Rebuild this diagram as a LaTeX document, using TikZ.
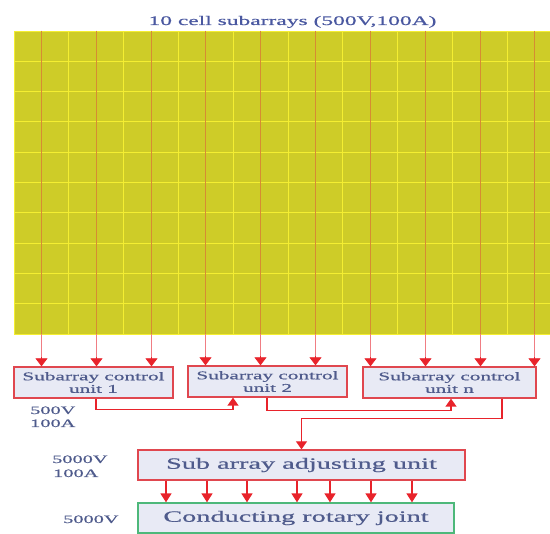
\documentclass[tikz,border=0pt]{standalone}
\usepackage{fontspec}
\setmainfont{Liberation Serif}[FakeStretch=1.8,FakeBold=0.6]
\usetikzlibrary{arrows.meta,calc}
\definecolor{panelc}{RGB}{206,204,40}
\definecolor{gridc}{RGB}{244,238,50}
\definecolor{redc}{RGB}{232,35,43}
\definecolor{feedin}{RGB}{214,140,50}
\definecolor{feedout}{RGB}{240,125,132}
\definecolor{boxred}{RGB}{224,71,79}
\definecolor{boxfill}{RGB}{232,234,245}
\definecolor{txtc}{RGB}{79,91,140}
\definecolor{titlec}{RGB}{74,88,160}
\definecolor{greenc}{RGB}{77,184,122}
\tikzset{
  unitbox/.style={draw=boxred, fill=boxfill, line width=1.3pt, minimum height=31pt, inner sep=0pt, align=center, text=txtc, font=\fontsize{11.8}{12.5}\selectfont},
  bigbox/.style={draw=boxred, fill=boxfill, line width=1.3pt, minimum height=30pt, inner sep=0pt, text=txtc, font=\fontsize{15.7}{17}\selectfont},
  conn/.style={draw=redc, line width=1.3pt, -{Triangle[width=11pt,length=8pt]}},
  conndown/.style={draw=redc, line width=1.6pt, -{Triangle[width=11pt,length=9pt]}},
  feedpanel/.style={draw=feedin, line width=1pt},
  feed/.style={draw=feedout, line width=1pt},
  feedtip/.style={draw=redc, fill=redc, line width=0.8pt, -{Triangle[width=12pt,length=8pt]}},
  lbl/.style={anchor=base west, inner sep=0pt, text=txtc, font=\fontsize{11.3}{13}\selectfont},
  panelbox/.style={fill=panelc, draw=gridc, line width=0.8pt, minimum width=536pt, minimum height=303pt, inner sep=0pt},
  gridline/.style={draw=gridc, line width=1pt}
}
\begin{document}
\begin{tikzpicture}[x=1pt,y=-1pt]
\useasboundingbox (0,0) rectangle (550,534);
% title
\node[anchor=base, inner sep=0pt, text=titlec, font=\fontsize{13.05}{15}\selectfont] (title) at (292.5,25) {10 cell subarrays (500V,100A)};
% panel
\node[panelbox] (panel) at (282,182.5) {};
\foreach \gx in {68.5,123.5,178.5,233.5,288.5,342.5,397.5,452.5,507.5} {
  \draw[gridline] (\gx,31) -- (\gx,334);
}
\foreach \gy in {61.5,91.5,121.5,152.5,182.5,212.5,243.5,273.5,303.5} {
  \draw[gridline] (14,\gy) -- (550,\gy);
}
% control units
\node[unitbox, minimum width=159pt] (u1) at (93.5,382.5) {Subarray control\\unit 1};
\node[unitbox, minimum width=159pt] (u2) at (267.5,381.5) {Subarray control\\unit 2};
\node[unitbox, minimum width=173pt] (un) at (449.5,382.5) {Subarray control\\unit n};
% feed lines from the panel
\foreach \x/\u in {41.5/u1, 96.5/u1, 151.5/u1, 205.5/u2, 260.5/u2, 315.5/u2, 370.5/un, 425.5/un, 480.5/un, 534.5/un} {
  \draw[feedpanel] (\x,0 |- panel.north) -- (\x,0 |- panel.south);
  \draw[feed] (\x,0 |- panel.south) -- (\x,0 |- \u.north);
  \draw[feedtip] ([yshift=9pt]\x,0 |- \u.north) -- (\x,0 |- \u.north);
}
% adjusting and joint
\node[bigbox, minimum width=327pt] (adj) at (301.5,465) {Sub array adjusting unit};
\node[bigbox, draw=greenc, minimum width=316pt] (cond) at (296,518) {Conducting rotary joint};
% connectors between units
\draw[conn] ([xshift=2.5pt]u1.south) -- ++(0,11) -| ([xshift=-34.5pt]u2.south);
\draw[conn] ([xshift=-0.5pt]u2.south) -- ++(0,13) -| ([xshift=1.5pt]un.south);
\draw[conn] ([xshift=52.5pt]un.south) -- ++(0,20) -| (adj.north);
\foreach \x in {166,207,247,297,330,371,412} {
  \draw[conndown] (\x,0 |- adj.south) -- (\x,0 |- cond.north);
}
% labels
\node[lbl] (l1) at (30,414) {500V};
\node[lbl] (l2) at (30,427) {100A};
\node[lbl] (l3) at (52,463) {5000V};
\node[lbl] (l4) at (53,477) {100A};
\node[lbl] (l5) at (63,523) {5000V};
\end{tikzpicture}
\end{document}
